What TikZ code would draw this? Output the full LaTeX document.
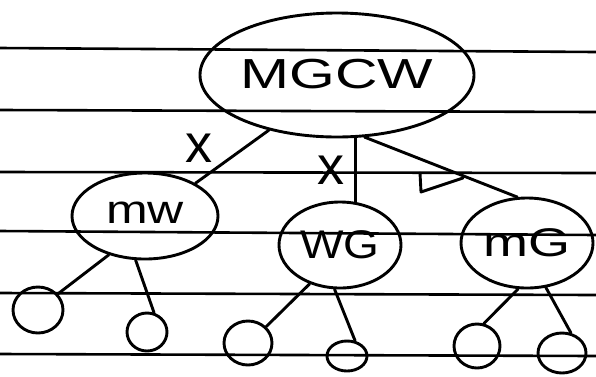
\documentclass[tikz,border=0pt]{standalone}
\usepackage{fontspec}
\usepackage{graphicx}
\setmainfont{Liberation Sans}
\usetikzlibrary{shapes.geometric}
\begin{document}
\begin{tikzpicture}[x=1pt,y=-1pt,
  ink/.style={line width=2.9pt, line cap=round, line join=round},
  bubble/.style={ellipse, draw, ink, inner sep=0pt},
  rulel/.style={line width=2.6pt},
  big/.style={font=\fontsize{42}{42}\selectfont},
  mid/.style={font=\fontsize{40}{40}\selectfont},
  xmark/.style={font=\fontsize{54}{54}\selectfont, inner sep=0pt}]
\useasboundingbox (0,0) rectangle (596,376);
\fill[white] (0,0) rectangle (596,376);
% ruled paper lines
\draw[rulel] (0,48) -- (596,52);
\draw[rulel] (0,110) -- (596,112);
\draw[rulel] (0,172) -- (596,173);
\draw[rulel] (0,231) -- (596,235);
\draw[rulel] (0,293) -- (596,295);
\draw[rulel] (0,354) -- (596,356);
% nodes
\node[bubble, big, minimum width=274pt, minimum height=124pt] (mgcw) at (337,75) {\raisebox{3pt}{\scalebox{1.4}[1]{MGCW}}};
\node[bubble, mid, minimum width=146pt, minimum height=86pt] (mw) at (145,216) {\raisebox{6pt}{\scalebox{1.25}[1]{mw}}};
\node[bubble, mid, minimum width=122pt, minimum height=86pt] (wg) at (340,245) {\scalebox{1.15}[1]{WG}};
\node[bubble, mid, minimum width=132pt, minimum height=90pt] (mg) at (527,243) {\scalebox{1.35}[1]{mG}};
\node[bubble, minimum width=50pt, minimum height=46pt] (c1) at (38,310) {};
\node[bubble, minimum width=40pt, minimum height=38pt] (c2) at (147,332) {};
\node[bubble, minimum width=48pt, minimum height=44pt] (c3) at (248,343) {};
\node[bubble, minimum width=40pt, minimum height=30pt] (c4) at (347,356) {};
\node[bubble, minimum width=46pt, minimum height=44pt] (c5) at (477,346) {};
\node[bubble, minimum width=48pt, minimum height=40pt] (c6) at (562,353) {};
% connectors
\draw[ink] (mgcw.219) -- (mw.33);
\draw[ink] (wg.70 |- mgcw.south) -- (wg.70);
\draw[ink] (mgcw.294) -- (mg.102);
\draw[ink] (mw.227) -- (c1.39);
\draw[ink] (mw.258) -- (c2.70);
\draw[ink] (wg.232) -- (c3.42);
\draw[ink] (wg.263) -- (c4.62);
\draw[ink] (mg.259) -- (c5.73);
\draw[ink] (mg.293) -- (c6.66);
% marks
\node[xmark] (x1) at (199,148) {x};
\node[xmark] (x2) at (331,170) {x};
\coordinate (ck1) at (420,173);
\coordinate (ck2) at (421,192);
\coordinate (ck3) at (463,178);
\draw[ink] (ck1) -- (ck2) -- (ck3);
\end{tikzpicture}
\end{document}
